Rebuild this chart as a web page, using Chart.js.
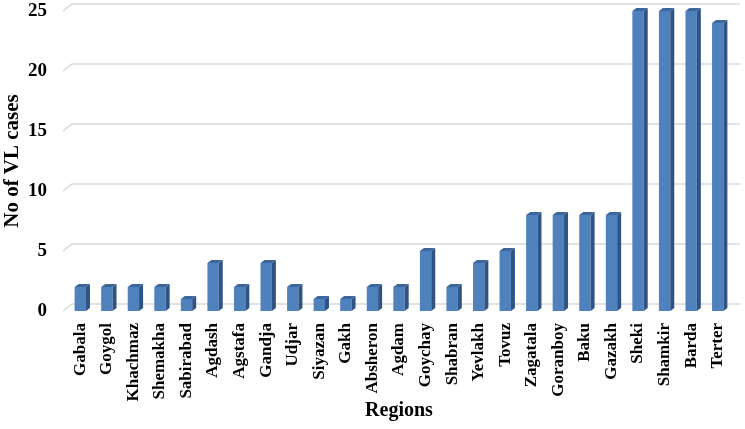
<!DOCTYPE html>
<html>
<head>
<meta charset="utf-8">
<script src="https://cdn.jsdelivr.net/npm/chart.js@4.4.1/dist/chart.umd.min.js"></script>
<style>
  html, body { margin: 0; padding: 0; background: #fff; }
  #wrap { width: 745px; height: 429px; }
</style>
</head>
<body>
<div id="wrap"><canvas id="c" width="745" height="429"></canvas></div>
<script>
const regions = ["Gabala", "Goygol", "Khachmaz", "Shemakha", "Sabirabad", "Agdash", "Agstafa", "Gandja", "Udjar", "Siyazan", "Gakh", "Absheron", "Agdam", "Goychay", "Shabran", "Yevlakh", "Tovuz", "Zagatala", "Goranboy", "Baku", "Gazakh", "Sheki", "Shamkir", "Barda", "Terter"];
const cases = [2, 2, 2, 2, 1, 4, 2, 4, 2, 1, 1, 2, 2, 5, 2, 4, 5, 8, 8, 8, 8, 25, 25, 25, 24];
const yTicks = [0, 5, 10, 15, 20, 25];

const FONT = "'Liberation Serif', 'Times New Roman', serif";

// fake 3D: back wall gridlines + bar side/top faces
const pseudo3d = {
  id: "pseudo3d",
  beforeDatasetsDraw(chart) {
    const { ctx, chartArea, scales } = chart;
    const dx = 9, dy = -7;
    ctx.save();
    ctx.strokeStyle = "#d9d9d9";
    ctx.lineWidth = 1.5;
    yTicks.forEach((v) => {
      const y = scales.y.getPixelForValue(v);
      ctx.beginPath();
      ctx.moveTo(chartArea.left - 4, y);
      ctx.lineTo(chartArea.left - 4 + dx, y + dy);
      ctx.lineTo(chartArea.right + 9, y + dy);
      ctx.stroke();
    });
    ctx.restore();
  },
  afterDatasetsDraw(chart) {
    const { ctx } = chart;
    const d = 4, h = 3;
    ctx.save();
    chart.getDatasetMeta(0).data.forEach((bar) => {
      const r = bar.x + bar.width / 2;
      const l = bar.x - bar.width / 2;
      ctx.fillStyle = "#2f5484";
      ctx.beginPath();
      ctx.moveTo(r, bar.base);
      ctx.lineTo(r, bar.y);
      ctx.lineTo(r + d, bar.y - h);
      ctx.lineTo(r + d, bar.base - h);
      ctx.closePath();
      ctx.fill();
      ctx.fillStyle = "#3c679c";
      ctx.beginPath();
      ctx.moveTo(l, bar.y);
      ctx.lineTo(r, bar.y);
      ctx.lineTo(r + d, bar.y - h);
      ctx.lineTo(l + d, bar.y - h);
      ctx.closePath();
      ctx.fill();
    });
    ctx.restore();
  }
};

new Chart(document.getElementById("c"), {
  type: "bar",
  data: {
    labels: regions,
    datasets: [{
      data: cases,
      backgroundColor: "#4f81bd",
      borderWidth: 0,
      barPercentage: 0.45,
      categoryPercentage: 0.95
    }]
  },
  options: {
    responsive: false,
    animation: false,
    layout: { padding: { top: 11, right: 14, bottom: 0, left: 0 } },
    plugins: { legend: { display: false }, tooltip: { enabled: false } },
    scales: {
      x: {
        grid: { display: false, drawTicks: false },
        border: { display: false },
        afterFit: (s) => { s.height = 118; s.paddingLeft = 0; s.paddingRight = 0; },
        ticks: {
          minRotation: 90, maxRotation: 90, autoSkip: false, padding: 12,
          color: "#000", font: { family: FONT, size: 17, weight: "bold" }
        },
        title: {
          display: true, text: "Regions", color: "#000",
          font: { family: FONT, size: 20, weight: "bold" },
          padding: { top: 0, bottom: 6 }
        }
      },
      y: {
        min: 0, max: 25,
        grid: { display: false, drawTicks: false },
        border: { display: false },
        afterFit: (s) => { s.width = 67; s.paddingTop = 0; s.paddingBottom = 0; },
        ticks: {
          stepSize: 5, padding: 20, color: "#000",
          font: { family: FONT, size: 19, weight: "bold" }
        },
        title: {
          display: true, text: "No of VL cases", color: "#000",
          font: { family: FONT, size: 21, weight: "bold" },
          padding: { top: 0, bottom: 0 }
        }
      }
    }
  },
  plugins: [pseudo3d]
});
</script>
</body>
</html>
